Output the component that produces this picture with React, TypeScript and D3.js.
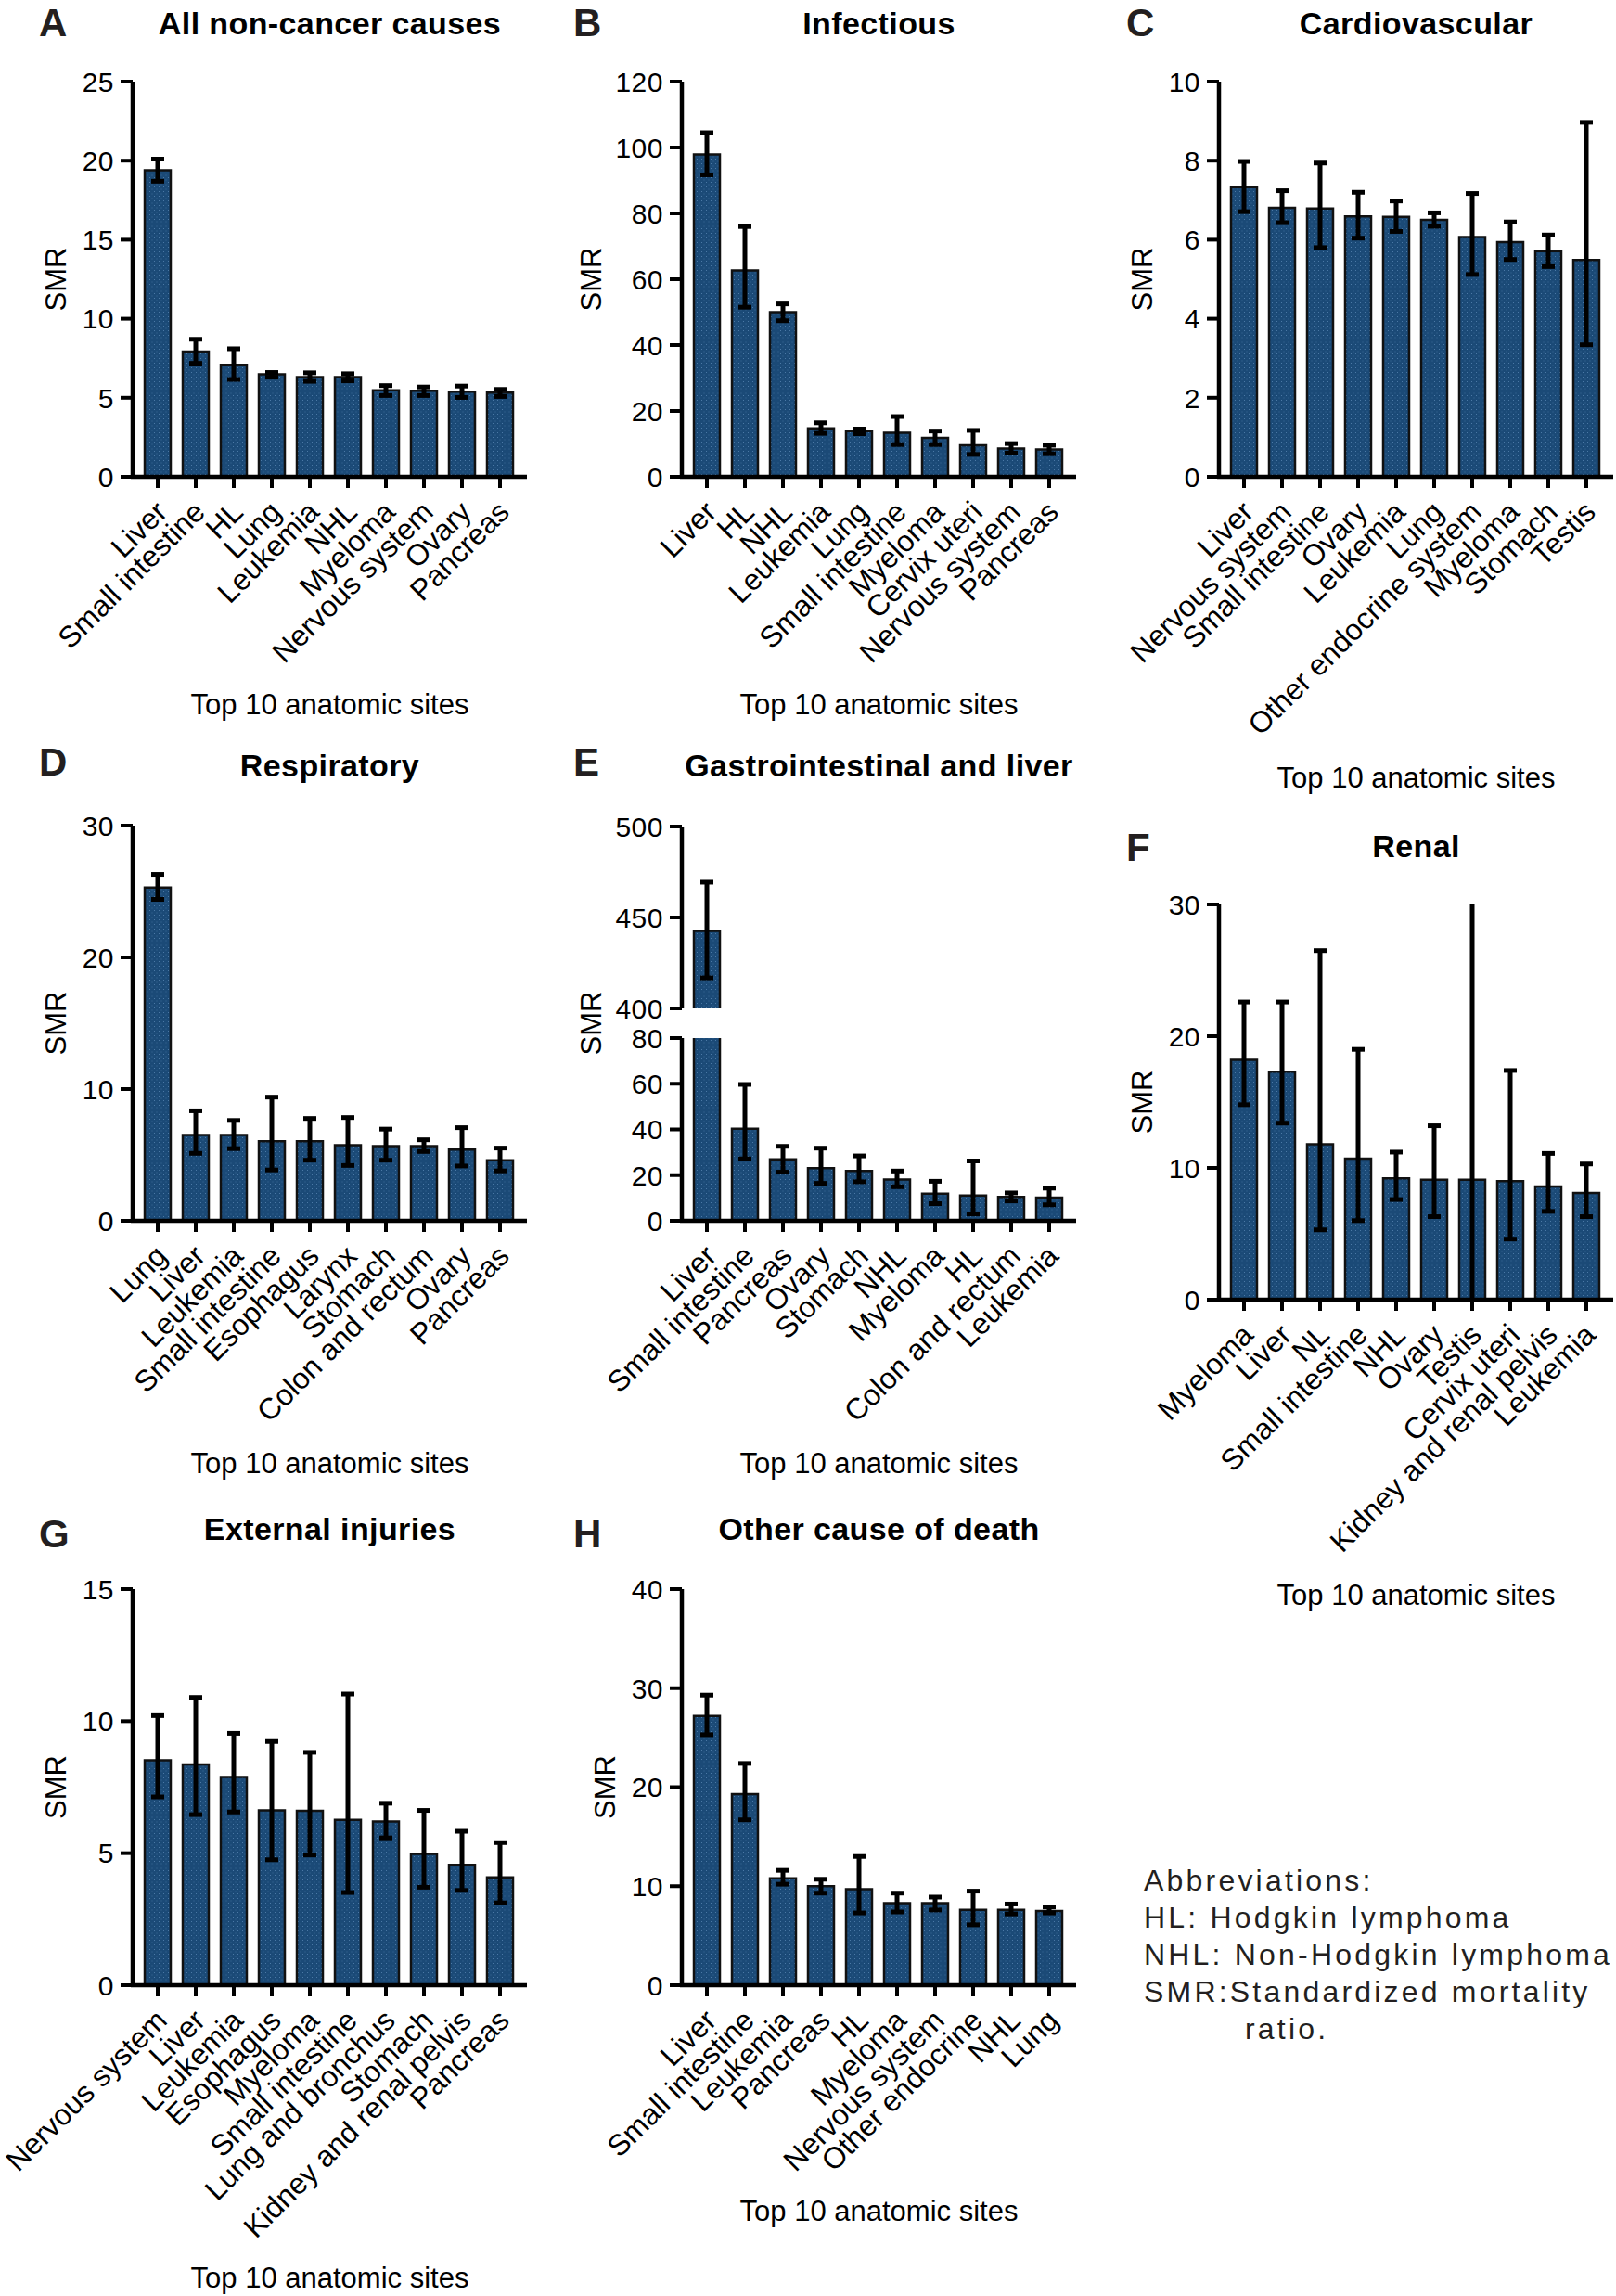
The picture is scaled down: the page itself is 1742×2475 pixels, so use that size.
import React from 'react';
import * as d3 from 'd3';

const FONT = "'Liberation Sans', Arial, Helvetica, sans-serif";

// ---------- DATA ----------
const catA = ['Liver', 'Small intestine', 'HL', 'Lung', 'Leukemia', 'NHL', 'Myeloma', 'Nervous system', 'Ovary', 'Pancreas'];
const smrA = [19.4, 7.92, 7.09, 6.49, 6.31, 6.31, 5.47, 5.44, 5.38, 5.32];
const loA = [18.7, 7.18, 6.16, 6.3, 6.04, 6.07, 5.14, 5.14, 5.02, 5.08];
const hiA = [20.1, 8.7, 8.1, 6.6, 6.58, 6.52, 5.77, 5.68, 5.74, 5.53];
const ticksA = [0, 5, 10, 15, 20, 25];

const catB = ['Liver', 'HL', 'NHL', 'Leukemia', 'Lung', 'Small intestine', 'Myeloma', 'Cervix uteri', 'Nervous system', 'Pancreas'];
const smrB = [97.9, 62.7, 50.0, 14.7, 13.9, 13.4, 11.8, 9.6, 8.6, 8.3];
const loB = [91.7, 51.5, 47.4, 13.2, 13.1, 9.8, 9.8, 6.8, 7.2, 7.0];
const hiB = [104.5, 76.0, 52.5, 16.4, 14.5, 18.3, 13.9, 14.1, 10.1, 9.6];
const ticksB = [0, 20, 40, 60, 80, 100, 120];

const catC = ['Liver', 'Nervous system', 'Small intestine', 'Ovary', 'Leukemia', 'Lung', 'Other endocrine system', 'Myeloma', 'Stomach', 'Testis'];
const smrC = [7.33, 6.81, 6.79, 6.59, 6.58, 6.5, 6.07, 5.94, 5.71, 5.49];
const loC = [6.71, 6.43, 5.8, 6.04, 6.21, 6.34, 5.12, 5.5, 5.32, 3.34];
const hiC = [7.98, 7.24, 7.94, 7.2, 6.98, 6.68, 7.17, 6.45, 6.12, 8.97];
const ticksC = [0, 2, 4, 6, 8, 10];

const catD = ['Lung', 'Liver', 'Leukemia', 'Small intestine', 'Esophagus', 'Larynx', 'Stomach', 'Colon and rectum', 'Ovary', 'Pancreas'];
const smrD = [25.3, 6.51, 6.51, 6.04, 6.04, 5.74, 5.67, 5.67, 5.41, 4.6];
const loD = [24.4, 5.12, 5.48, 3.86, 4.6, 4.2, 4.6, 5.26, 4.16, 3.79];
const hiD = [26.3, 8.35, 7.62, 9.39, 7.77, 7.84, 6.96, 6.15, 7.07, 5.52];
const ticksD = [0, 10, 20, 30];

const catE = ['Liver', 'Small intestine', 'Pancreas', 'Ovary', 'Stomach', 'NHL', 'Myeloma', 'HL', 'Colon and rectum', 'Leukemia'];
const smrE = [442.6, 40.3, 26.9, 23.0, 21.8, 18.1, 11.9, 11.1, 10.5, 10.2];
const loE = [416.8, 27.1, 21.3, 16.4, 17.1, 14.9, 7.5, 3.0, 8.7, 7.0];
const hiE = [469.4, 59.7, 32.6, 31.8, 28.4, 21.8, 17.3, 26.2, 12.2, 14.3];
const ticksE = [0, 20, 40, 60, 80, 400, 450, 500];

const catF = ['Myeloma', 'Liver', 'NL', 'Small intestine', 'NHL', 'Ovary', 'Testis', 'Cervix uteri', 'Kidney and renal pelvis', 'Leukemia'];
const smrF = [18.2, 17.3, 11.8, 10.7, 9.2, 9.1, 9.1, 9.0, 8.6, 8.1];
const loF = [14.8, 13.4, 5.3, 6.0, 7.6, 6.3, -2, 4.6, 6.7, 6.3];
const hiF = [22.6, 22.6, 26.5, 19.0, 11.2, 13.2, 34, 17.4, 11.1, 10.3];
const ticksF = [0, 10, 20, 30];

const catG = ['Nervous system', 'Liver', 'Leukemia', 'Esophagus', 'Myeloma', 'Small intestine', 'Lung and bronchus', 'Stomach', 'Kidney and renal pelvis', 'Pancreas'];
const smrG = [8.52, 8.36, 7.89, 6.62, 6.6, 6.26, 6.2, 4.97, 4.56, 4.08];
const loG = [7.13, 6.46, 6.56, 4.75, 4.93, 3.51, 5.58, 3.71, 3.59, 3.12];
const hiG = [10.21, 10.9, 9.54, 9.23, 8.82, 11.03, 6.89, 6.62, 5.83, 5.4];
const ticksG = [0, 5, 10, 15];

const catH = ['Liver', 'Small intestine', 'Leukemia', 'Pancreas', 'HL', 'Myeloma', 'Nervous system', 'Other endocrine', 'NHL', 'Lung'];
const smrH = [27.2, 19.3, 10.8, 10.0, 9.7, 8.3, 8.3, 7.6, 7.6, 7.5];
const loH = [25.3, 16.7, 10.2, 9.3, 7.3, 7.4, 7.6, 6.1, 7.2, 7.3];
const hiH = [29.3, 22.4, 11.6, 10.7, 13.0, 9.3, 8.9, 9.5, 8.2, 7.9];
const ticksH = [0, 10, 20, 30, 40];

const titles = ['All non-cancer causes', 'Infectious', 'Cardiovascular', 'Respiratory', 'Gastrointestinal and liver', 'Renal', 'External injuries', 'Other cause of death'];
const letters = ['A', 'B', 'C', 'D', 'E', 'F', 'G', 'H'];
const xAxisTitle = 'Top 10 anatomic sites';
const yAxisTitle = 'SMR';
const abbreviations = ['Abbreviations:', 'HL: Hodgkin lymphoma', 'NHL: Non-Hodgkin lymphoma', 'SMR:Standardized mortality'];
const abbrevTail = 'ratio.';

// ---------- LAYOUT ----------
const colAxisX = [143, 735, 1314];
const colLetterX = [42, 618, 1214];
const PLOT_W = 425;

type Panel = {
  cats: string[]; smr: number[]; lo: number[]; hi: number[]; ticks: number[];
  segments: number[][]; col: number; top: number; bottom: number;
  letterY: number; titleY: number; xTitleY: number; rangeY?: number[];
};

const panels: Panel[] = [
  { cats: catA, smr: smrA, lo: loA, hi: hiA, ticks: ticksA, segments: [[0, 25]], col: 0, top: 88, bottom: 514, letterY: 39, titleY: 37, xTitleY: 770 },
  { cats: catB, smr: smrB, lo: loB, hi: hiB, ticks: ticksB, segments: [[0, 120]], col: 1, top: 88, bottom: 514, letterY: 39, titleY: 37, xTitleY: 770 },
  { cats: catC, smr: smrC, lo: loC, hi: hiC, ticks: ticksC, segments: [[0, 10]], col: 2, top: 88, bottom: 514, letterY: 39, titleY: 37, xTitleY: 849 },
  { cats: catD, smr: smrD, lo: loD, hi: hiD, ticks: ticksD, segments: [[0, 30]], col: 0, top: 890, bottom: 1316, letterY: 836, titleY: 837, xTitleY: 1588 },
  { cats: catE, smr: smrE, lo: loE, hi: hiE, ticks: ticksE, segments: [[0, 80], [400, 500]], col: 1, top: 890, bottom: 1316, letterY: 836, titleY: 837, xTitleY: 1588, rangeY: [1316, 1119, 1087, 891] },
  { cats: catF, smr: smrF, lo: loF, hi: hiF, ticks: ticksF, segments: [[0, 30]], col: 2, top: 975, bottom: 1401, letterY: 928, titleY: 924, xTitleY: 1730 },
  { cats: catG, smr: smrG, lo: loG, hi: hiG, ticks: ticksG, segments: [[0, 15]], col: 0, top: 1713, bottom: 2140, letterY: 1668, titleY: 1660, xTitleY: 2466 },
  { cats: catH, smr: smrH, lo: loH, hi: hiH, ticks: ticksH, segments: [[0, 40]], col: 1, top: 1713, bottom: 2140, letterY: 1668, titleY: 1660, xTitleY: 2394 },
];

const BAR_FILL = 'url(#dots)';

function PanelView({ p, i }: { p: Panel; i: number }) {
  const axisX = colAxisX[p.col];
  const axisEnd = axisX + PLOT_W;
  const x = d3.scaleBand<string>().domain(p.cats).range([axisX + 6.5, axisX + 416.5]).paddingInner(0.317).paddingOuter(0.1585);
  const dom = p.segments.length > 1 ? [0, 80, 400, 500] : [0, p.segments[0][1]];
  const rng = p.rangeY ?? [p.bottom, p.top];
  const y = d3.scaleLinear().domain(dom).range(rng);
  const y0 = y(0);
  const maxV = p.segments[p.segments.length - 1][1];
  const maxChars = d3.max(p.ticks, (t) => String(t).length) ?? 2;
  const smrX = axisX - (maxChars >= 3 ? 98 : 83);
  const midX = (axisX + axisEnd) / 2;
  const capW = 7;

  const inSeg = (v: number) => p.segments.some((s) => v >= s[0] && v <= s[1]);

  return (
    <g>
      <text x={colLetterX[p.col]} y={p.letterY} fontFamily={FONT} fontWeight="bold" fontSize={42} fill="#231f20">{letters[i]}</text>
      <text x={midX} y={p.titleY} fontFamily={FONT} fontWeight="bold" fontSize={34} textAnchor="middle" fill="#000" letterSpacing={0.4}>{titles[i]}</text>

      {/* bars */}
      {p.cats.map((c, k) => {
        const bx = x(c) as number;
        const bw = x.bandwidth();
        const v = p.smr[k];
        return p.segments.map((s, si) => {
          if (v <= s[0]) return null;
          const topV = Math.min(v, s[1]);
          const yTop = y(topV);
          const yBot = y(s[0]);
          const isTop = v <= s[1];
          const path = isTop
            ? `M${bx},${yBot} L${bx},${yTop} L${bx + bw},${yTop} L${bx + bw},${yBot}`
            : `M${bx},${yBot} L${bx},${yTop} M${bx + bw},${yTop} L${bx + bw},${yBot}`;
          return (
            <g key={`${k}-${si}`}>
              <rect x={bx} y={yTop} width={bw} height={yBot - yTop} fill={BAR_FILL} />
              <path d={path} fill="none" stroke="#111" strokeWidth={2.5} />
            </g>
          );
        });
      })}

      {/* error bars */}
      {p.cats.map((c, k) => {
        const cx = (x(c) as number) + x.bandwidth() / 2;
        const lo = Math.max(p.lo[k], 0);
        const hi = Math.min(p.hi[k], maxV);
        const showHiCap = inSeg(p.hi[k]) && p.hi[k] < maxV;
        const showLoCap = p.lo[k] > 0;
        return (
          <g key={`e${k}`} stroke="#000" strokeWidth={5}>
            <line x1={cx} x2={cx} y1={y(lo)} y2={y(hi)} />
            {showHiCap && <line x1={cx - capW} x2={cx + capW} y1={y(hi)} y2={y(hi)} />}
            {showLoCap && <line x1={cx - capW} x2={cx + capW} y1={y(lo)} y2={y(lo)} />}
          </g>
        );
      })}

      {/* y axis */}
      {p.segments.map((s, si) => (
        <line key={`ya${si}`} x1={axisX} x2={axisX} y1={y(s[0]) + (si === 0 ? 2 : 0)} y2={y(s[1])} stroke="#000" strokeWidth={4.5} />
      ))}
      {p.ticks.map((t) => (
        <g key={`yt${t}`}>
          <line x1={axisX - 13} x2={axisX} y1={y(t)} y2={y(t)} stroke="#000" strokeWidth={4} />
          <text x={axisX - 20} y={y(t)} dy="0.36em" textAnchor="end" fontFamily={FONT} fontSize={30} fill="#000" letterSpacing={0.5}>{t}</text>
        </g>
      ))}

      {/* x axis */}
      <line x1={axisX - 2} x2={axisEnd} y1={y0} y2={y0} stroke="#000" strokeWidth={4.5} />
      {p.cats.map((c) => {
        const cx = (x(c) as number) + x.bandwidth() / 2;
        return (
          <g key={`xt${c}`}>
            <line x1={cx} x2={cx} y1={y0} y2={y0 + 12} stroke="#000" strokeWidth={4} />
            <text transform={`translate(${cx + 4},${y0 + 32}) rotate(-45)`} dy="0.35em" textAnchor="end" fontFamily={FONT} fontSize={32} fill="#000">{c}</text>
          </g>
        );
      })}

      <text transform={`translate(${smrX},${(p.top + p.bottom) / 2}) rotate(-90)`} dy="0.36em" textAnchor="middle" fontFamily={FONT} fontSize={31} fill="#000">{yAxisTitle}</text>
      <text x={midX} y={p.xTitleY} textAnchor="middle" fontFamily={FONT} fontSize={31} fill="#000">{xAxisTitle}</text>
    </g>
  );
}

export default function App() {
  const abbrY = [2038, 2078, 2118, 2158];
  return (
    <svg width={1742} height={2475} style={{ position: 'absolute', left: 0, top: 0, background: '#fff' }} xmlns="http://www.w3.org/2000/svg">
      <defs>
        <pattern id="dots" patternUnits="userSpaceOnUse" width={5} height={5}>
          <rect width={5} height={5} fill="#1b4a77" />
          <rect x={1} y={1} width={1} height={1} fill="#4b79a6" />
          <rect x={3.5} y={3.5} width={1} height={1} fill="#3a6a98" />
        </pattern>
      </defs>
      <rect width={1742} height={2475} fill="#fff" />
      {panels.map((p, i) => <PanelView key={i} p={p} i={i} />)}
      <g fontFamily={FONT} fontSize={32} fill="#231f20" letterSpacing={3.2}>
        {abbreviations.map((t, k) => (
          <text key={k} x={1233} y={abbrY[k]}>{t}</text>
        ))}
        <text x={1342} y={2198}>{abbrevTail}</text>
      </g>
    </svg>
  );
}
